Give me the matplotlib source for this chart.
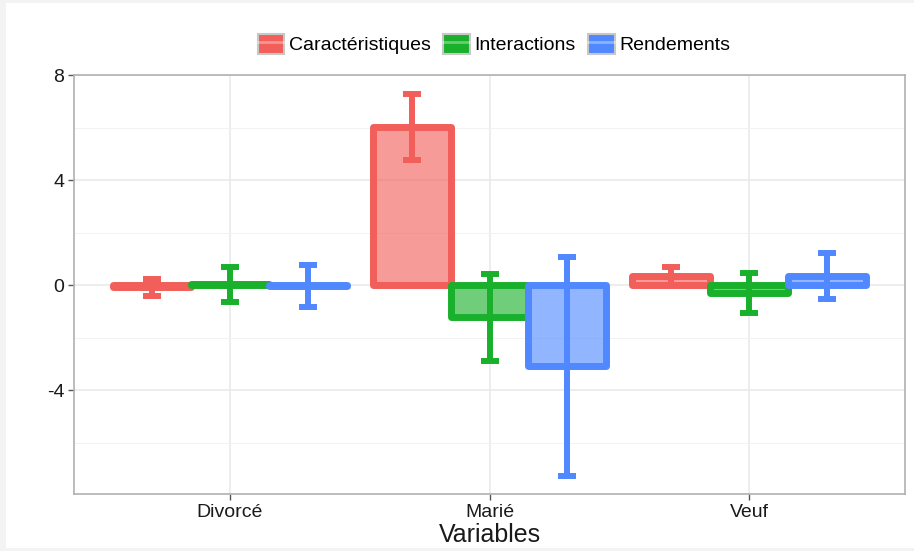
import matplotlib
matplotlib.use("Agg")
import matplotlib.pyplot as plt
import numpy as np
from matplotlib.patches import Patch, Rectangle
from matplotlib.lines import Line2D
from matplotlib.legend_handler import HandlerTuple

plt.rcParams['font.family'] = ['Liberation Sans', 'DejaVu Sans']
plt.rcParams['axes.unicode_minus'] = False

# Data
categories = ["Divorcé", "Marié", "Veuf"]
series = ["Caractéristiques", "Interactions", "Rendements"]
caracteristiques = [-0.08, 6.02, 0.35]
interactions = [0.03, -1.23, -0.30]
rendements = [-0.02, -3.08, 0.36]
err_caracteristiques = [0.33, 1.25, 0.35]
err_interactions = [0.66, 1.67, 0.75]
err_rendements = [0.80, 4.17, 0.87]
y_ticks = [-4, 0, 4, 8]

values = [caracteristiques, interactions, rendements]
errors = [err_caracteristiques, err_interactions, err_rendements]
line_colors = ["#F25E59", "#19B02B", "#5088FF"]
fill_alpha = 0.62

W, H = 914, 551
fig = plt.figure(figsize=(W / 100, H / 100), dpi=100, facecolor="#f3f3f3")
fig.patches.append(Rectangle((6 / W, 3 / H), 1 - 6 / W, 1 - 6 / H,
                             transform=fig.transFigure, facecolor="white",
                             edgecolor="none", zorder=-5))

ax = fig.add_axes([74 / W, 1 - 494 / H, (905 - 74) / W, (494 - 75) / H])
ax.set_facecolor("white")

x = np.arange(1, len(categories) + 1)
width = 0.3
offsets = [-width, 0, width]

for vals, col, off in zip(values, line_colors, offsets):
    ax.bar(x + off, vals, width=width, color=col, alpha=fill_alpha,
           edgecolor="none", zorder=2)
    ax.bar(x + off, vals, width=width, facecolor="none", edgecolor=col,
           linewidth=5, joinstyle="round", zorder=2.1)

for vals, errs, col, off in zip(values, errors, line_colors, offsets):
    ax.errorbar(x + off, vals, yerr=errs, fmt="none", ecolor=col,
                elinewidth=4.3, capsize=6.2, capthick=4.3, zorder=3)

ax.set_xlim(0.4, 3.6)
ax.set_ylim(-7.95, 8.0)
ax.set_xticks(x)
ax.set_xticklabels(categories)
ax.set_yticks(y_ticks)
ax.set_yticks([-6, -2, 2, 6], minor=True)
ax.tick_params(axis="both", which="major", length=4, width=1, color="#555555",
               labelsize=14, labelcolor="#1a1a1a", pad=3)
ax.tick_params(axis="y", which="minor", length=0)
ax.grid(True, which="major", color="#e8e8e8", linewidth=1.1, zorder=0)
ax.grid(True, which="minor", axis="y", color="#f2f2f2", linewidth=0.7, zorder=0)
ax.set_axisbelow(True)
for sp in ax.spines.values():
    sp.set_color("#b0b0b0")
    sp.set_linewidth(1.2)

ax.set_xlabel("Variables", fontsize=18, color="#1a1a1a", labelpad=2)

handles = []
for col in line_colors:
    key = Patch(facecolor=col, edgecolor="#c8c8c8", linewidth=1.5)
    glyph = Line2D([], [], color="white", alpha=0.35, linewidth=2)
    handles.append((key, glyph))
fig.legend(handles, series, loc="center", bbox_to_anchor=(494 / W, 1 - 44 / H),
           ncol=3, frameon=False, fontsize=14, handlelength=1.35, handleheight=1.25,
           handletextpad=0.25, columnspacing=0.65,
           handler_map={tuple: HandlerTuple(ndivide=1, pad=0)})

fig.savefig("out.png", dpi=100, facecolor=fig.get_facecolor())
